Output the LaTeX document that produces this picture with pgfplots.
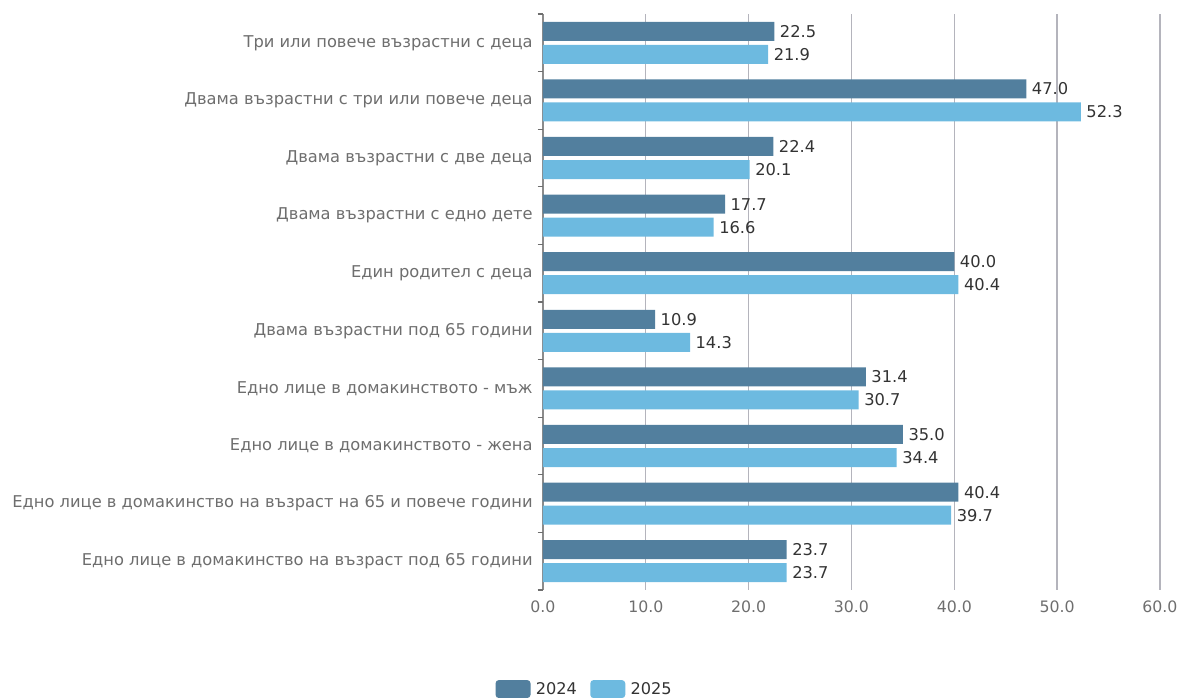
\documentclass[border=0pt]{standalone}
\usepackage{fontspec}
\setmainfont{DejaVu Sans}
\usepackage{pgfplots}
\pgfplotsset{compat=1.18}
\definecolor{cA}{HTML}{527F9E}
\definecolor{cB}{HTML}{6DBAE0}
\definecolor{gridc}{HTML}{B4B4BC}
\definecolor{lab}{HTML}{6E6E6E}
\definecolor{val}{HTML}{333333}
\begin{document}
\begin{tikzpicture}
\path[use as bounding box] (-407.25pt,-81pt) rectangle ++(884.25pt,523.5pt);
\begin{axis}[
  at={(0,0)}, anchor=south west,
  scale only axis, width=462.75pt, height=432pt,
  xmin=0, xmax=60, ymin=-0.5, ymax=9.5, y dir=reverse,
  /pgf/number format/assume math mode=true,
  xtick={0,10,...,60},
  xticklabel={\pgfmathprintnumber[fixed,fixed zerofill,precision=1]{\tick}},
  xticklabel style={font=\fontsize{11.8}{13}\selectfont, text=lab, yshift=-4.5pt},
  ytick={0,...,9},
  yticklabels={Три или повече възрастни с деца, Двама възрастни с три или повече деца, Двама възрастни с две деца, Двама възрастни с едно дете, Един родител с деца, Двама възрастни под 65 години, Едно лице в домакинството - мъж, Едно лице в домакинството - жена, Едно лице в домакинство на възраст на 65 и повече години, Едно лице в домакинство на възраст под 65 години},
  yticklabel style={font=\fontsize{12.2}{14}\selectfont, text=lab},
  xtick style={draw=none}, ytick style={draw=none},
  extra y ticks={-0.5,0.5,...,9.5}, extra y tick labels={},
  extra y tick style={tick align=outside, major tick length=4pt, ytick style={draw=lab, line width=0.8pt}},
  xmajorgrids, grid style={gridc, line width=1pt},
  axis x line*=bottom, axis y line*=left,
  x axis line style={draw=none},
  y axis line style={draw=lab!80, line width=0.8pt},
  xbar, bar width=0.33,
  nodes near coords={\pgfmathprintnumber[fixed,fixed zerofill,precision=1]{\pgfplotspointmeta}},
  nodes near coords style={font=\fontsize{12.2}{14}\selectfont, text=val, anchor=west, inner sep=2pt, xshift=2pt},
  legend style={at={(0.068,-0.172)}, anchor=center, draw=none, legend columns=2,
    font=\fontsize{12.1}{14}\selectfont, text=val,
    /tikz/every even column/.append style={column sep=8pt}},
  clip=false,
]
\addplot[fill=cA, draw=none, bar shift=-0.2,
  legend image code/.code={\fill[cA, rounded corners=2.5pt] (0pt,-6.75pt) rectangle (26.25pt,6.75pt);}]
  coordinates {(22.5,0) (47.0,1) (22.4,2) (17.7,3) (40.0,4) (10.9,5) (31.4,6) (35.0,7) (40.4,8) (23.7,9)};
\addplot[fill=cB, draw=none, bar shift=0.2,
  legend image code/.code={\fill[cB, rounded corners=2.5pt] (0pt,-6.75pt) rectangle (26.25pt,6.75pt);}]
  coordinates {(21.9,0) (52.3,1) (20.1,2) (16.6,3) (40.4,4) (14.3,5) (30.7,6) (34.4,7) (39.7,8) (23.7,9)};
\legend{\hspace{2pt}2024, \hspace{2pt}2025}
\end{axis}
\end{tikzpicture}
\end{document}
